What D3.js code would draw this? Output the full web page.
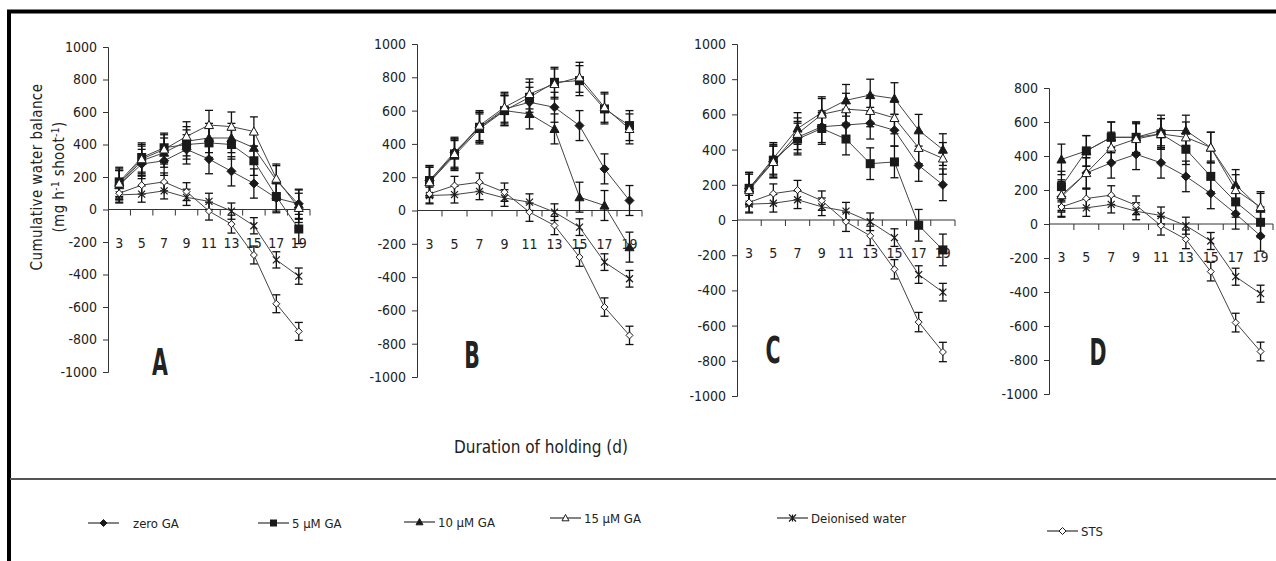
<!DOCTYPE html>
<html>
<head>
<script src="https://cdnjs.cloudflare.com/ajax/libs/d3/7.8.5/d3.min.js"></script>
<style>
  body { margin: 0; background: #fff; }
  svg { display: block; }
  text { font-family: "Liberation Sans Narrow", "Arial Narrow", "DejaVu Sans Condensed", sans-serif; fill: #222; }
</style>
</head>
<body>
<svg></svg>
<script>
// categories and treatments
var days = ["3", "5", "7", "9", "11", "13", "15", "17", "19"];
var treatments = ["zero GA", "5 µM GA", "10 µM GA", "15 µM GA", "Deionised water", "STS"];
var markers = ["diamond", "square", "triangle", "triangle-open", "star", "diamond-open"];
var errorSize = [90, 90, 90, 90, 50, 55];

// controls, same in every panel
var deionised = [90, 95, 115, 75, 50, -10, -100, -310, -410];
var sts = [100, 150, 170, 110, -10, -90, -280, -580, -750];

// panel A
var zeroA = [150, 280, 300, 370, 310, 235, 160, 70, 35];
var fiveA = [170, 320, 380, 400, 410, 400, 300, 80, -120];
var tenA = [150, 300, 350, 420, 440, 440, 380, 180, 30];
var fifteenA = [160, 310, 370, 450, 520, 510, 480, 190, 10];

// panel B
var zeroB = [180, 350, 500, 610, 650, 620, 510, 250, 60];
var fiveB = [180, 340, 500, 600, 680, 770, 780, 610, 510];
var tenB = [170, 330, 490, 600, 580, 490, 80, 30, -220];
var fifteenB = [170, 340, 510, 620, 700, 760, 800, 620, 490];

// panel C
var zeroC = [180, 330, 470, 530, 540, 550, 510, 310, 200];
var fiveC = [180, 340, 460, 520, 460, 320, 330, -30, -170];
var tenC = [180, 350, 520, 610, 680, 710, 690, 510, 400];
var fifteenC = [170, 330, 490, 600, 630, 620, 580, 410, 350];

// panel D
var zeroD = [160, 300, 360, 410, 360, 280, 180, 60, -70];
var fiveD = [220, 430, 510, 510, 530, 440, 280, 130, 10];
var tenD = [380, 430, 510, 510, 550, 550, 450, 230, 90];
var fifteenD = [170, 300, 450, 500, 530, 510, 450, 200, 100];

var yTicksFull = d3.range(-1000, 1001, 200);
var yTicksD = d3.range(-1000, 801, 200);

var W = 1276, H = 561;
var svg = d3.select("svg").attr("width", W).attr("height", H);

// frame
svg.append("line").attr("x1", 7).attr("x2", W).attr("y1", 11.5).attr("y2", 11.5)
  .attr("stroke", "#000").attr("stroke-width", 4);
svg.append("line").attr("x1", 9).attr("x2", 9).attr("y1", 10).attr("y2", H)
  .attr("stroke", "#000").attr("stroke-width", 4);
svg.append("line").attr("x1", 10).attr("x2", W).attr("y1", 479).attr("y2", 479)
  .attr("stroke", "#555").attr("stroke-width", 2);

var panels = [
  { name: "A", x0: 108, x1: 310, yTop: 47, yBot: 372, ticks: yTicksFull, lx: 160, ly: 375,
    series: [zeroA, fiveA, tenA, fifteenA, deionised, sts] },
  { name: "B", x0: 417, x1: 642, yTop: 44, yBot: 377, ticks: yTicksFull, lx: 472, ly: 368,
    series: [zeroB, fiveB, tenB, fifteenB, deionised, sts] },
  { name: "C", x0: 737, x1: 955, yTop: 44, yBot: 396, ticks: yTicksFull, lx: 773, ly: 363,
    series: [zeroC, fiveC, tenC, fifteenC, deionised, sts] },
  { name: "D", x0: 1049, x1: 1273, yTop: 88, yBot: 394, ticks: yTicksD, lx: 1098, ly: 365,
    series: [zeroD, fiveD, tenD, fifteenD, deionised, sts] }
];

function drawMarker(g, type, s) {
  var dark = "#1a1a1a";
  if (type === "diamond" || type === "diamond-open") {
    g.append("path").attr("d", "M0," + (-s) + "L" + s + ",0L0," + s + "L" + (-s) + ",0Z")
      .attr("fill", type === "diamond" ? dark : "#fff").attr("stroke", dark).attr("stroke-width", 1);
  } else if (type === "square") {
    g.append("rect").attr("x", -s).attr("y", -s).attr("width", 2 * s).attr("height", 2 * s)
      .attr("fill", dark);
  } else if (type === "triangle" || type === "triangle-open") {
    g.append("path").attr("d", "M0," + (-s) + "L" + s + "," + (s * 0.8) + "L" + (-s) + "," + (s * 0.8) + "Z")
      .attr("fill", type === "triangle" ? dark : "#fff").attr("stroke", dark).attr("stroke-width", 1);
  } else if (type === "star") {
    g.append("path")
      .attr("d", "M" + (-s) + "," + (-s) + "L" + s + "," + s + "M" + s + "," + (-s) + "L" + (-s) + "," + s +
        "M0," + (-s) + "L0," + s)
      .attr("stroke", dark).attr("stroke-width", 1.2).attr("fill", "none");
  }
}

panels.forEach(function(p) {
  var x = d3.scaleBand().domain(days).range([p.x0, p.x1]);
  var yMax = d3.max(p.ticks);
  var y = d3.scaleLinear().domain([-1000, yMax]).range([p.yBot, p.yTop]);
  var g = svg.append("g");

  // y axis (plain hyphen minus, no thousands separator)
  var ya = g.append("g").attr("transform", "translate(" + p.x0 + ",0)")
    .call(d3.axisLeft(y).tickValues(p.ticks).tickSize(5).tickPadding(6)
      .tickFormat(function(d) { return String(d); }));
  ya.select(".domain").attr("stroke", "#333");
  ya.selectAll(".tick line").attr("stroke", "#333");
  ya.selectAll("text").style("font-size", "14px").attr("fill", "#222");

  // x axis at zero, ticks between categories
  var y0 = y(0);
  g.append("line").attr("x1", p.x0).attr("x2", p.x1).attr("y1", y0).attr("y2", y0)
    .attr("stroke", "#333");
  g.selectAll(".xtick").data(days).enter().append("line")
    .attr("x1", function(d) { return x(d) + x.bandwidth(); })
    .attr("x2", function(d) { return x(d) + x.bandwidth(); })
    .attr("y1", y0).attr("y2", y0 + 6).attr("stroke", "#333");
  g.selectAll(".xlab").data(days).enter().append("text")
    .attr("x", function(d) { return x(d) + x.bandwidth() / 2; })
    .attr("y", y0 + 38)
    .attr("text-anchor", "middle").style("font-size", "14px")
    .text(function(d) { return d; });

  // error bars
  p.series.forEach(function(vals, si) {
    var e = errorSize[si];
    var eb = g.append("g").attr("stroke", "#111").attr("stroke-width", 1.3);
    vals.forEach(function(v, i) {
      var cx = x(days[i]) + x.bandwidth() / 2;
      eb.append("line").attr("x1", cx).attr("x2", cx).attr("y1", y(v - e)).attr("y2", y(v + e));
      eb.append("line").attr("x1", cx - 4).attr("x2", cx + 4).attr("y1", y(v - e)).attr("y2", y(v - e));
      eb.append("line").attr("x1", cx - 4).attr("x2", cx + 4).attr("y1", y(v + e)).attr("y2", y(v + e));
    });
  });

  // lines
  var line = d3.line()
    .x(function(d, i) { return x(days[i]) + x.bandwidth() / 2; })
    .y(function(d) { return y(d); });
  p.series.forEach(function(vals) {
    g.append("path").datum(vals).attr("d", line)
      .attr("fill", "none").attr("stroke", "#444").attr("stroke-width", 1);
  });

  // markers
  p.series.forEach(function(vals, si) {
    vals.forEach(function(v, i) {
      var m = g.append("g").attr("transform",
        "translate(" + (x(days[i]) + x.bandwidth() / 2) + "," + y(v) + ")");
      drawMarker(m, markers[si], si >= 4 ? 3.5 : 4.5);
    });
  });

  // panel letter
  g.append("text").attr("transform", "translate(" + p.lx + "," + p.ly + ") scale(0.6,1)")
    .attr("text-anchor", "middle").style("font-size", "38px").style("font-weight", "bold")
    .attr("fill", "#000").text(p.name);
});

// axis titles
svg.append("text").attr("transform", "translate(42,177) rotate(-90)")
  .attr("text-anchor", "middle").style("font-size", "15px").style("letter-spacing", "0.4px")
  .text("Cumulative water balance");
var yt2 = svg.append("text").attr("transform", "translate(64,177) rotate(-90)")
  .attr("text-anchor", "middle").style("font-size", "15px").style("letter-spacing", "0.4px");
yt2.append("tspan").text("(mg h");
yt2.append("tspan").attr("dy", -5).style("font-size", "10px").text("-1");
yt2.append("tspan").attr("dy", 5).text(" shoot");
yt2.append("tspan").attr("dy", -5).style("font-size", "10px").text("-1");
yt2.append("tspan").attr("dy", 5).text(")");

svg.append("text").attr("x", 541).attr("y", 453).attr("text-anchor", "middle")
  .style("font-size", "17px").text("Duration of holding (d)");

// legend
var legendX = [88, 258, 404, 550, 777, 1047];
var legendY = [523, 523, 522, 518, 518, 531];
treatments.forEach(function(t, i) {
  var lg = svg.append("g").attr("transform", "translate(" + legendX[i] + "," + legendY[i] + ")");
  lg.append("line").attr("x1", 0).attr("x2", 31).attr("y1", 0).attr("y2", 0)
    .attr("stroke", "#333").attr("stroke-width", 1.2);
  var m = lg.append("g").attr("transform", "translate(15.5,0)");
  drawMarker(m, markers[i], 3.5);
  lg.append("text").attr("x", i === 0 ? 45 : 34).attr("y", 5).style("font-size", "13px").text(t);
});
</script>
</body>
</html>
